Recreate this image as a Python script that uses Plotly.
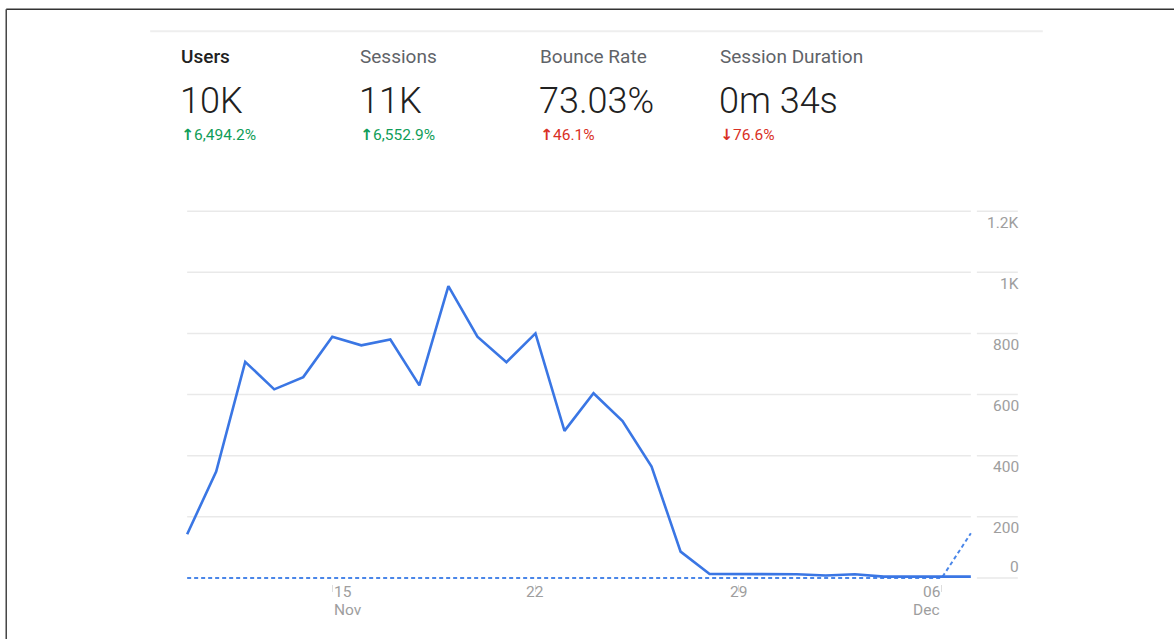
import plotly.graph_objects as go
import datetime as _dt

# ---------------- data ----------------
dates = ["2019-11-10", "2019-11-11", "2019-11-12", "2019-11-13", "2019-11-14",
         "2019-11-15", "2019-11-16", "2019-11-17", "2019-11-18", "2019-11-19",
         "2019-11-20", "2019-11-21", "2019-11-22", "2019-11-23", "2019-11-24",
         "2019-11-25", "2019-11-26", "2019-11-27", "2019-11-28", "2019-11-29",
         "2019-11-30", "2019-12-01", "2019-12-02", "2019-12-03", "2019-12-04",
         "2019-12-05", "2019-12-06", "2019-12-07"]
users = [143, 348, 707, 617, 657, 789, 761, 780, 630, 955,
         789, 706, 800, 481, 604, 513, 364, 86, 13, 13,
         13, 12, 8, 12, 4, 4, 4, 4]
users_prev = [0, 0, 0, 0, 0, 0, 0, 0, 0, 0,
              0, 0, 0, 0, 0, 0, 0, 0, 0, 0,
              0, 0, 0, 0, 0, 0, 0, 146]

y_ticks = [0, 200, 400, 600, 800, 1000, 1200]
y_tick_text = ["0", "200", "400", "600", "800", "1K", "1.2K"]

x_tick_dates = ["2019-11-15", "2019-11-22", "2019-11-29", "2019-12-06"]
x_tick_day = ["15", "22", "29", "06"]
x_tick_month = ["Nov", "", "", "Dec"]
x_tick_anchor = ["left", "center", "center", "right"]

metric_names = ["Users", "Sessions", "Bounce Rate", "Session Duration"]
metric_values = ["10K", "11K", "73.03%", "0m 34s"]
metric_arrows = ["↑", "↑", "↑", "↓"]
metric_changes = ["6,494.2%", "6,552.9%", "46.1%", "76.6%"]
metric_change_colors = ["#0f9d58", "#0f9d58", "#d93025", "#d93025"]
metric_name_colors = ["#212121", "#5f6368", "#5f6368", "#5f6368"]

# ---------------- layout geometry (pixels) ----------------
W, H = 1174, 639
n_days = len(dates) - 1
px_day = (971 - 187) / n_days
pad = 0.35
L = 187 - pad * px_day
PW = (n_days + 2 * pad) * px_day
R = W - L - PW
ppu = (578 - 211) / 1200.0
ylo, yhi = -20, 1230
B = H - (578 - ylo * ppu)
T = 211 - (yhi - 1200) * ppu
PH = H - T - B


def xp(px):
    return (px - L) / PW


def yp(py):
    return (H - B - py) / PH


x_lo = _dt.datetime.fromisoformat(dates[0]) - _dt.timedelta(hours=pad * 24)
x_hi = _dt.datetime.fromisoformat(dates[-1]) + _dt.timedelta(hours=pad * 24)

fig = go.Figure()
fig.add_trace(go.Scatter(
    x=dates, y=users_prev, mode="lines",
    line=dict(color="#4a86e8", width=2, dash="4px,3px"),
    hoverinfo="skip", showlegend=False))
fig.add_trace(go.Scatter(
    x=dates, y=users, mode="lines",
    line=dict(color="#3a76e4", width=2.6),
    showlegend=False))

shapes = []
for v in y_ticks:
    if v != 0:
        shapes.append(dict(type="line", xref="x", yref="y", x0=dates[0], x1=dates[-1],
                           y0=v, y1=v, line=dict(color="#e9e9e9", width=1.5), layer="below"))
    shapes.append(dict(type="line", xref="paper", yref="y", x0=xp(977), x1=xp(1018),
                       y0=v, y1=v, line=dict(color="#e9e9e9", width=1.5), layer="below"))
shapes.append(dict(type="line", xref="paper", yref="paper", x0=xp(150), x1=xp(1043),
                   y0=yp(31), y1=yp(31), line=dict(color="#eeeeee", width=2)))
shapes.append(dict(type="line", xref="paper", yref="paper", x0=xp(6), x1=xp(1175),
                   y0=yp(9), y1=yp(9), line=dict(color="#333333", width=1.5)))
shapes.append(dict(type="line", xref="paper", yref="paper", x0=xp(6), x1=xp(6),
                   y0=yp(9), y1=yp(640), line=dict(color="#444444", width=1.5)))

ann = []
for v, t in zip(y_ticks, y_tick_text):
    ann.append(dict(xref="paper", yref="y", x=xp(1021), y=v, text=t, showarrow=False,
                    xanchor="right", yanchor="middle", yshift=(10.5 if v == 0 else -11.5),
                    font=dict(family="Roboto", size=15.5, color="#9e9e9e")))
for d, day, mon, anc in zip(x_tick_dates, x_tick_day, x_tick_month, x_tick_anchor):
    ann.append(dict(xref="x", yref="paper", x=d, y=yp(592), text=day, showarrow=False,
                    xanchor=anc, yanchor="middle",
                    font=dict(family="Roboto", size=15.5, color="#9e9e9e")))
    if mon:
        ann.append(dict(xref="x", yref="paper", x=d, y=yp(610), text=mon, showarrow=False,
                        xanchor=anc, yanchor="middle",
                        font=dict(family="Roboto", size=15.5, color="#9e9e9e")))
metric_x = [181, 360, 540, 720]
for mx, name, val, arr, chg, cc, nc in zip(metric_x, metric_names, metric_values, metric_arrows,
                                           metric_changes, metric_change_colors, metric_name_colors):
    ann.append(dict(xref="paper", yref="paper", x=xp(mx - 2), y=yp(56), text=name,
                    showarrow=False, xanchor="left", yanchor="middle",
                    font=dict(family="Roboto", size=19, color=nc,
                              weight=(500 if name == "Users" else 400))))
    ann.append(dict(xref="paper", yref="paper", x=xp(mx - 3), y=yp(101), text=val,
                    showarrow=False, xanchor="left", yanchor="middle",
                    font=dict(family="Roboto", size=36, color="#212121", weight=300)))
    ann.append(dict(xref="paper", yref="paper", x=xp(mx - 2), y=yp(135),
                    text='<span style="font-family:DejaVu Sans;font-weight:bold">' + arr + '</span>' + chg,
                    showarrow=False, xanchor="left", yanchor="middle",
                    font=dict(family="Roboto", size=15.5, color=cc)))

fig.update_layout(
    width=W, height=H,
    margin=dict(l=L, r=R, t=T, b=B, pad=0),
    paper_bgcolor="white", plot_bgcolor="white",
    shapes=shapes, annotations=ann,
    xaxis=dict(type="date", range=[x_lo, x_hi], showgrid=False, zeroline=False,
               showline=False, tickvals=x_tick_dates, showticklabels=False,
               ticks="outside", ticklen=7, tickwidth=1, tickcolor="#dddddd"),
    yaxis=dict(range=[ylo, yhi], showgrid=False, zeroline=False, showline=False,
               showticklabels=False, ticks=""),
    hovermode="x",
)

fig.write_html("out.html", config={"displayModeBar": False},
               post_script="document.body.style.margin='0px';document.body.style.overflow='hidden';")
